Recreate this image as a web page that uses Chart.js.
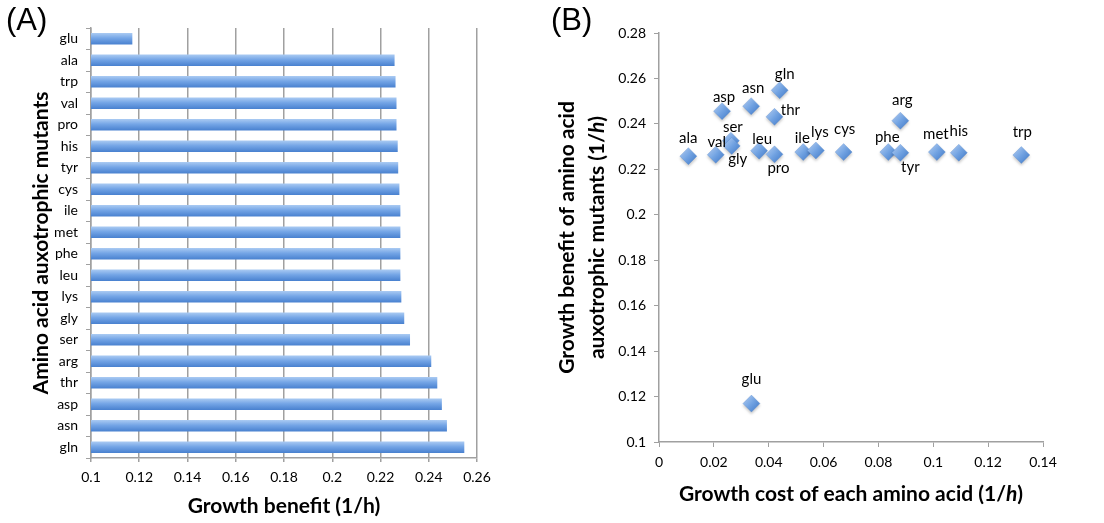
<!DOCTYPE html>
<html>
<head>
<meta charset="utf-8">
<script src="https://cdn.jsdelivr.net/npm/chart.js@4"></script>
<style>
  body { margin: 0; background: #fff; width: 1104px; height: 523px; overflow: hidden; position: relative; }
  .panel { position: absolute; top: 0; height: 523px; }
  .tag { position: absolute; top: 2px; font: 31px "Liberation Sans", Arial, sans-serif; color: #000; }
</style>
</head>
<body>
<div class="panel" style="left:0;width:540px"><canvas id="benefitChart" width="540" height="523"></canvas></div>
<div class="panel" style="left:540px;width:564px"><canvas id="costChart" width="564" height="523"></canvas></div>
<div class="tag" style="left:6px">(A)</div>
<div class="tag" style="left:551px">(B)</div>
<script>
// (A) growth benefit per auxotrophic mutant, top to bottom
const barLabels = ["glu", "ala", "trp", "val", "pro", "his", "tyr", "cys", "ile", "met",
  "phe", "leu", "lys", "gly", "ser", "arg", "thr", "asp", "asn", "gln"];
const barBenefit = [0.117, 0.2257, 0.2261, 0.2265, 0.2265, 0.227, 0.2272, 0.2277, 0.2281, 0.2281,
  0.2281, 0.2281, 0.2285, 0.2297, 0.2321, 0.2409, 0.2434, 0.2453, 0.2474, 0.2546];
const benefitTicks = [0.1, 0.12, 0.14, 0.16, 0.18, 0.2, 0.22, 0.24, 0.26];

// (B) cost vs benefit
const scatterLabels = ["ala", "val", "ser", "gly", "asp", "asn", "gln", "thr", "leu", "pro",
  "ile", "lys", "cys", "phe", "tyr", "arg", "met", "his", "trp", "glu"];
const scatterCost = [0.0107, 0.0207, 0.0262, 0.0265, 0.023, 0.0336, 0.044, 0.0421, 0.0365, 0.0421,
  0.0526, 0.0572, 0.0673, 0.0836, 0.088, 0.088, 0.1013, 0.1093, 0.1321, 0.0337];
const scatterBenefit = [0.2258, 0.2264, 0.2326, 0.2303, 0.2456, 0.2478, 0.2548, 0.2431, 0.2282, 0.2266,
  0.2276, 0.2283, 0.2276, 0.2276, 0.2273, 0.2414, 0.2276, 0.2273, 0.2263, 0.1169];
const costTicks = [0, 0.02, 0.04, 0.06, 0.08, 0.1, 0.12, 0.14];
const scatterTicks = [0.1, 0.12, 0.14, 0.16, 0.18, 0.2, 0.22, 0.24, 0.26, 0.28];

// where each point label sits, relative to its diamond
const labelOffsets = {
  ala: [0, -18], val: [1, -13], ser: [2, -14], gly: [6, 13], asp: [2, -14],
  asn: [2, -18], gln: [5, -16], thr: [16, -7], leu: [3, -12], pro: [4, 14],
  ile: [-1, -14], lys: [4, -18], cys: [1, -23], phe: [-1, -15], tyr: [10, 14],
  arg: [2, -21], met: [-1, -18], his: [0, -22], trp: [1, -23], glu: [0, -24]
};

const FONT = "Lato, 'Open Sans', sans-serif";
const GREY = "#a0a0a0";
const TITLE_SIZE = 21;

function tickSetter(values) {
  return (scale) => { scale.ticks = values.map((v) => ({ value: v })); };
}

function barFill(c) {
  const chart = c.chart;
  const y = chart.scales && chart.scales.y;
  if (!y || c.dataIndex === undefined) return "#6fa1e2";
  const py = y.getPixelForValue(c.dataIndex);
  if (!isFinite(py)) return "#6fa1e2";
  const g = chart.ctx.createLinearGradient(0, py - 5.5, 0, py + 5.5);
  g.addColorStop(0, "#a8c9f2");
  g.addColorStop(0.45, "#74a5e6");
  g.addColorStop(1, "#4a82d0");
  return g;
}

function diamondFill(c) {
  const chart = c.chart;
  const sx = chart.scales && chart.scales.x;
  const sy = chart.scales && chart.scales.y;
  if (!sx || !sy || !c.raw) return "#72a3e2";
  const px = sx.getPixelForValue(c.raw.x);
  const py = sy.getPixelForValue(c.raw.y);
  if (!isFinite(px) || !isFinite(py)) return "#72a3e2";
  const g = chart.ctx.createLinearGradient(px - 6, py - 6, px + 6, py + 6);
  g.addColorStop(0, "#a6c7f2");
  g.addColorStop(0.5, "#72a3e2");
  g.addColorStop(1, "#4d84cf");
  return g;
}

// draws text made of plain / italic pieces, centred on (x, y)
function drawParts(ctx, parts, x, y, size, rotate) {
  ctx.save();
  ctx.translate(x, y);
  if (rotate) ctx.rotate(-Math.PI / 2);
  ctx.fillStyle = "#000";
  ctx.textBaseline = "middle";
  ctx.textAlign = "left";
  let total = 0;
  parts.forEach((p) => {
    ctx.font = (p.italic ? "italic " : "") + "bold " + size + "px " + FONT;
    total += ctx.measureText(p.text).width;
  });
  let cx = -total / 2;
  parts.forEach((p) => {
    ctx.font = (p.italic ? "italic " : "") + "bold " + size + "px " + FONT;
    ctx.fillText(p.text, cx, 0);
    cx += ctx.measureText(p.text).width;
  });
  ctx.restore();
}

const benefitTitles = {
  id: "benefitTitles",
  afterDraw(chart) {
    const a = chart.chartArea;
    const ctx = chart.ctx;
    drawParts(ctx, [{ text: "Growth benefit (1/h)" }], (a.left + a.right) / 2, 506, TITLE_SIZE, false);
    drawParts(ctx, [{ text: "Amino acid auxotrophic mutants" }], 41, (a.top + a.bottom) / 2, TITLE_SIZE, true);
  }
};

const costTitles = {
  id: "costTitles",
  afterDraw(chart) {
    const a = chart.chartArea;
    const ctx = chart.ctx;
    drawParts(ctx, [{ text: "Growth cost of each amino acid (1/" }, { text: "h", italic: true }, { text: ")" }],
      (a.left + a.right) / 2, 494, TITLE_SIZE, false);
    const mid = (a.top + a.bottom) / 2;
    drawParts(ctx, [{ text: "Growth benefit of amino acid" }], 27, mid, TITLE_SIZE, true);
    drawParts(ctx, [{ text: "auxotrophic mutants (1/" }, { text: "h", italic: true }, { text: ")" }], 57, mid, TITLE_SIZE, true);
  }
};

const pointNames = {
  id: "pointNames",
  afterDatasetsDraw(chart) {
    const ctx = chart.ctx;
    const meta = chart.getDatasetMeta(0);
    ctx.save();
    ctx.font = "15px " + FONT;
    ctx.fillStyle = "#000";
    ctx.textAlign = "center";
    ctx.textBaseline = "middle";
    meta.data.forEach((pt, i) => {
      const name = scatterLabels[i];
      const off = labelOffsets[name] || [0, -16];
      ctx.fillText(name, pt.x + off[0], pt.y + off[1]);
    });
    ctx.restore();
  }
};

const softShadow = {
  id: "softShadow",
  beforeDatasetsDraw(chart) {
    const ctx = chart.ctx;
    ctx.save();
    ctx.shadowColor = "rgba(0,0,0,0.22)";
    ctx.shadowBlur = 3;
    ctx.shadowOffsetY = 2;
  },
  afterDatasetsDraw(chart) {
    chart.ctx.restore();
  }
};

new Chart(document.getElementById("benefitChart"), {
  type: "bar",
  data: {
    labels: barLabels,
    datasets: [{
      data: barBenefit,
      backgroundColor: barFill,
      borderWidth: 0,
      barThickness: 11
    }]
  },
  options: {
    indexAxis: "y",
    responsive: false,
    animation: false,
    layout: { padding: { top: 28, right: 63, left: 0, bottom: 0 } },
    plugins: { legend: { display: false }, tooltip: { enabled: false } },
    scales: {
      x: {
        min: 0.1,
        max: 0.26,
        afterBuildTicks: tickSetter(benefitTicks),
        afterFit: (s) => { s.height = 65; },
        grid: { color: GREY, lineWidth: 1.5, tickLength: 4 },
        border: { color: GREY, width: 1.5 },
        ticks: {
          color: "#000", font: { family: FONT, size: 14 }, padding: 7,
          maxRotation: 0, autoSkip: false,
          callback: (v) => String(v)
        }
      },
      y: {
        afterFit: (s) => { s.width = 91; },
        grid: { offset: true, drawOnChartArea: false, color: GREY, tickLength: 5 },
        border: { color: GREY, width: 1.5 },
        ticks: { color: "#000", font: { family: FONT, size: 14 }, padding: 8, autoSkip: false }
      }
    }
  },
  plugins: [benefitTitles]
});

new Chart(document.getElementById("costChart"), {
  type: "scatter",
  data: {
    datasets: [{
      data: scatterCost.map((c, i) => ({ x: c, y: scatterBenefit[i] })),
      pointStyle: "rectRot",
      pointRadius: 8.5,
      backgroundColor: diamondFill,
      borderColor: "rgba(80,130,200,0.6)",
      borderWidth: 0.5
    }]
  },
  options: {
    responsive: false,
    animation: false,
    layout: { padding: { top: 33, right: 61, left: 0, bottom: 0 } },
    plugins: { legend: { display: false }, tooltip: { enabled: false } },
    scales: {
      x: {
        min: 0,
        max: 0.14,
        afterBuildTicks: tickSetter(costTicks),
        afterFit: (s) => { s.height = 81; },
        grid: { drawOnChartArea: false, color: GREY, tickLength: 5 },
        border: { color: GREY, width: 1.5 },
        ticks: {
          color: "#000", font: { family: FONT, size: 14 }, padding: 7,
          maxRotation: 0, autoSkip: false,
          callback: (v) => String(v)
        }
      },
      y: {
        min: 0.1,
        max: 0.28,
        afterBuildTicks: tickSetter(scatterTicks),
        afterFit: (s) => { s.width = 119; },
        grid: { drawOnChartArea: false, color: GREY, tickLength: 5 },
        border: { color: GREY, width: 1.5 },
        ticks: {
          color: "#000", font: { family: FONT, size: 14 }, padding: 8,
          autoSkip: false,
          callback: (v) => String(v)
        }
      }
    }
  },
  plugins: [softShadow, pointNames, costTitles]
});
</script>
</body>
</html>
